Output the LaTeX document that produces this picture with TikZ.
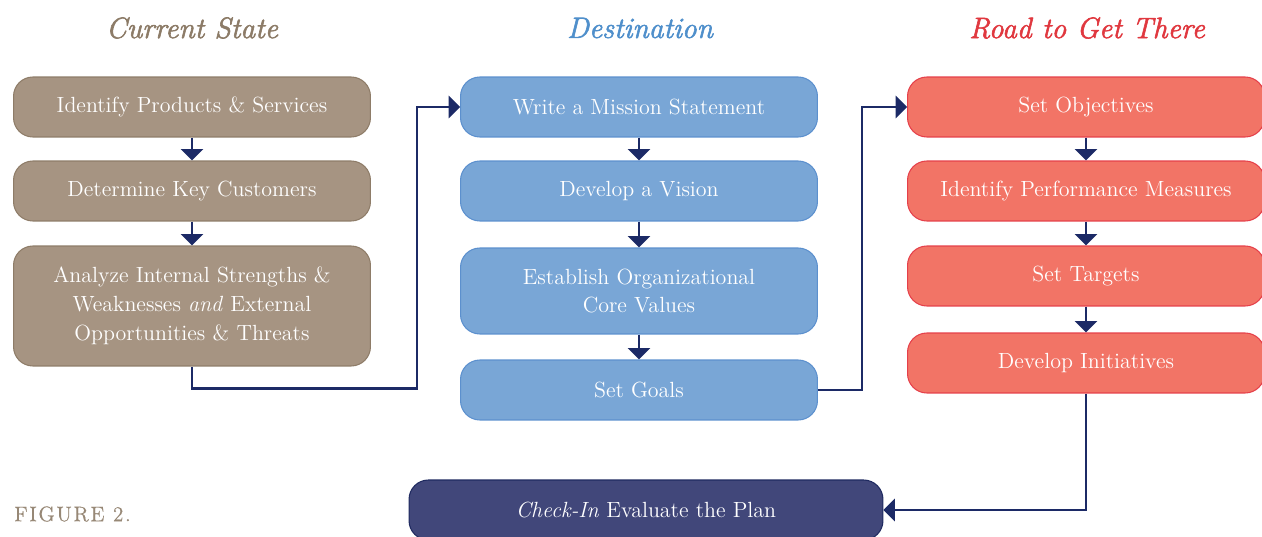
\documentclass[tikz,border=0pt]{standalone}
\usepackage{fontspec}
\setmainfont{Latin Modern Roman}
\usepackage{xcolor}
\usepackage{tikz}
\usetikzlibrary{positioning}
\usetikzlibrary{arrows,shapes}
\usetikzlibrary{calc}

\definecolor{tan}{HTML}{A69482}
\definecolor{tandark}{HTML}{8E7C68}
\definecolor{sky}{HTML}{79A6D6}
\definecolor{skydark}{HTML}{5C90CE}
\definecolor{coral}{HTML}{F27466}
\definecolor{coraldark}{HTML}{E5404A}
\definecolor{slate}{HTML}{41477A}
\definecolor{slatedark}{HTML}{1F2A60}
\definecolor{navy}{HTML}{1C2A66}
\definecolor{hdtan}{HTML}{8C7B67}
\definecolor{hdsky}{HTML}{4F8FCB}
\definecolor{hdcoral}{HTML}{E0383F}

\tikzstyle{stepbox}=[rectangle,rounded corners=11pt,draw,line width=0.6pt,text=white,align=center,minimum width=7.14cm,minimum height=1.2cm,inner sep=2pt,font=\fontsize{12.5}{16.5}\selectfont]
\tikzstyle{header}=[font=\fontsize{16.8}{20}\selectfont\itshape\addfontfeature{FakeBold=2}]
\tikzstyle{edge} = [draw,line width=1.3pt,navy,-triangle 90]

\begin{document}
\begin{tikzpicture}[x=0.02cm,y=-0.02cm]

  \useasboundingbox (0,0) rectangle (1262,537);

  \node[header,text=hdtan] (hcur) at (192,28) {Current State};
  \node[header,text=hdsky] (hdst) at (640,28) {Destination};
  \node[header,text=hdcoral] (hroad) at (1087,28) {Road to Get There};

  % current state
  \foreach \y/\name/\label in {107/cs1/{Identify Products \& Services}, 191/cs2/{Determine Key Customers}}
          \node[stepbox,fill=tan,draw=tandark] (\name) at (192,\y) {\label};
  \node[stepbox,fill=tan,draw=tandark,minimum height=2.4cm] (cs3) at (192,306)
        {Analyze Internal Strengths \&\\ Weaknesses \textit{and} External\\ Opportunities \& Threats};

  % destination
  \foreach \y/\name/\label in {107/ds1/{Write a Mission Statement}, 191/ds2/{Develop a Vision}, 390/ds4/{Set Goals}}
          \node[stepbox,fill=sky,draw=skydark] (\name) at (639,\y) {\label};
  \node[stepbox,fill=sky,draw=skydark,minimum height=1.72cm] (ds3) at (639,291)
        {Establish Organizational\\ Core Values};

  % road to get there
  \foreach \y/\name/\label in {107/rd1/{Set Objectives}, 191/rd2/{Identify Performance Measures}, 276/rd3/{Set Targets}, 363/rd4/{Develop Initiatives}}
          \node[stepbox,fill=coral,draw=coraldark] (\name) at (1086,\y) {\label};

  \node[stepbox,fill=slate,draw=slatedark,minimum width=9.48cm] (chk) at (646,510)
        {\textit{Check-In} Evaluate the Plan};

  \foreach \source/ \dest in {cs1/cs2, cs2/cs3, ds1/ds2, ds2/ds3, ds3/ds4, rd1/rd2, rd2/rd3, rd3/rd4}
         \path[edge] (\source) -- (\dest);

  \path[edge] (cs3.south) -- ++(0,22) -- ++(225,0) |- (ds1.west);
  \path[edge] (ds4.east) -- ++(44,0) |- (rd1.west);
  \path[edge] (rd4.south) |- (chk.east);

  \node[anchor=west,text=hdtan!90,font=\fontsize{12}{14}\selectfont] (fig) at (8,514)
        {\addfontfeature{LetterSpace=8,FakeBold=0.6}FIGURE 2.};

\end{tikzpicture}
\end{document}
